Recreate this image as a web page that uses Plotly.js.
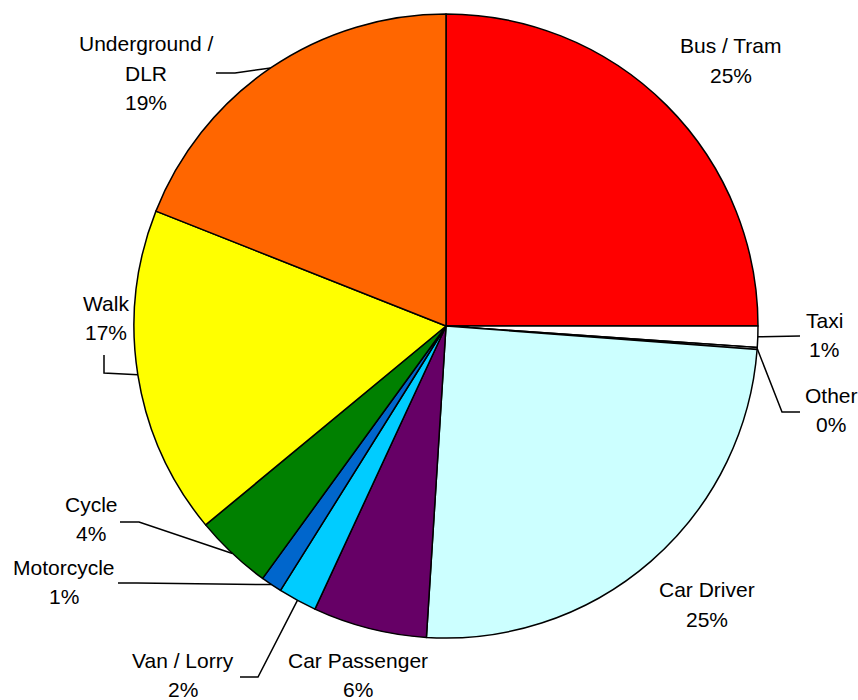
<!DOCTYPE html>
<html>
<head>
<meta charset="utf-8">
<script src="https://cdn.plot.ly/plotly-3.0.1.min.js"></script>
<style>html,body{margin:0;padding:0;background:#fff;}#chart{width:858px;height:700px;}</style>
</head>
<body>
<div id="chart"></div>
<script>
// Data (clockwise from 12 o'clock)
var categories = ["Bus / Tram", "Taxi", "Other", "Car Driver", "Car Passenger", "Van / Lorry", "Motorcycle", "Cycle", "Walk", "Underground / DLR"];
var labelLines = [["Bus / Tram"], ["Taxi"], ["Other"], ["Car Driver"], ["Car Passenger"], ["Van / Lorry"], ["Motorcycle"], ["Cycle"], ["Walk"], ["Underground /", "DLR"]];
var shares = [25.0, 1.1, 0.1, 24.8, 5.9, 2.0, 1.1, 4.0, 17.0, 19.0];
var colors = ["#FF0000", "#FFFFFF", "#FFFFFF", "#CCFFFF", "#660066", "#00CCFF", "#0066CC", "#008000", "#FFFF00", "#FF6600"];

var W = 858, H = 700;
var CX = 446, CY = 326, R = 312;
var LINE = 29.5;

// label placement (pixel centres of text blocks) and leader elbows — layout only
var labelPos = [[731, 60.5], [824, 335], [831, 410], [707, 604.5], [358, 675], [183, 675], [64, 582], [91, 519], [106, 318], [146, 73]];
var leaderElbows = [null, [[800, 336]], [[800, 412], [782, 412]], null, null, [[240, 677], [258, 677]], [[118, 583], [137, 583]], [[120, 522], [139, 522]], [[104, 355], [104, 373]], [[216, 73], [235, 73]]];

function px(x) { return x / W; }
function py(y) { return 1 - y / H; }

var total = shares.reduce(function (a, b) { return a + b; }, 0);
var annotations = [], shapes = [];
var cum = 0;
for (var i = 0; i < shares.length; i++) {
  var mid = (cum + shares[i] / 2) / total;
  cum += shares[i];
  var pct = Math.round(shares[i] / total * 100) + '%';
  var lines = labelLines[i].concat([pct]);
  var n = lines.length;
  for (var k = 0; k < n; k++) {
    var yy = labelPos[i][1] + (k - (n - 1) / 2) * LINE;
    annotations.push({
      x: px(labelPos[i][0]), y: py(yy), xref: 'paper', yref: 'paper',
      xanchor: 'center', yanchor: 'middle', showarrow: false,
      text: lines[k],
      font: {family: 'Liberation Sans, Arial, sans-serif', size: 21, color: '#000'}
    });
  }
  if (leaderElbows[i]) {
    var ang = mid * 2 * Math.PI;
    var ax = CX + R * Math.sin(ang), ay = CY - R * Math.cos(ang);
    var pts = leaderElbows[i].concat([[ax, ay]]);
    var d = pts.map(function (p, j) { return (j ? 'L' : 'M') + px(p[0]).toFixed(5) + ',' + py(p[1]).toFixed(5); }).join(' ');
    shapes.push({type: 'path', xref: 'paper', yref: 'paper', path: d, line: {color: '#000', width: 1.5}});
  }
}

var trace = {
  type: 'pie',
  labels: categories,
  values: shares,
  sort: false,
  direction: 'clockwise',
  rotation: 0,
  textinfo: 'none',
  hoverinfo: 'skip',
  marker: {colors: colors, line: {color: '#000', width: 1.5}},
  domain: {x: [(CX - R) / W, (CX + R) / W], y: [1 - (CY + R) / H, 1 - (CY - R) / H]},
  showlegend: false
};

var layout = {
  width: W, height: H,
  margin: {l: 0, r: 0, t: 0, b: 0},
  paper_bgcolor: '#fff',
  showlegend: false,
  annotations: annotations,
  shapes: shapes
};

Plotly.newPlot('chart', [trace], layout, {displayModeBar: false, staticPlot: true});
</script>
</body>
</html>
